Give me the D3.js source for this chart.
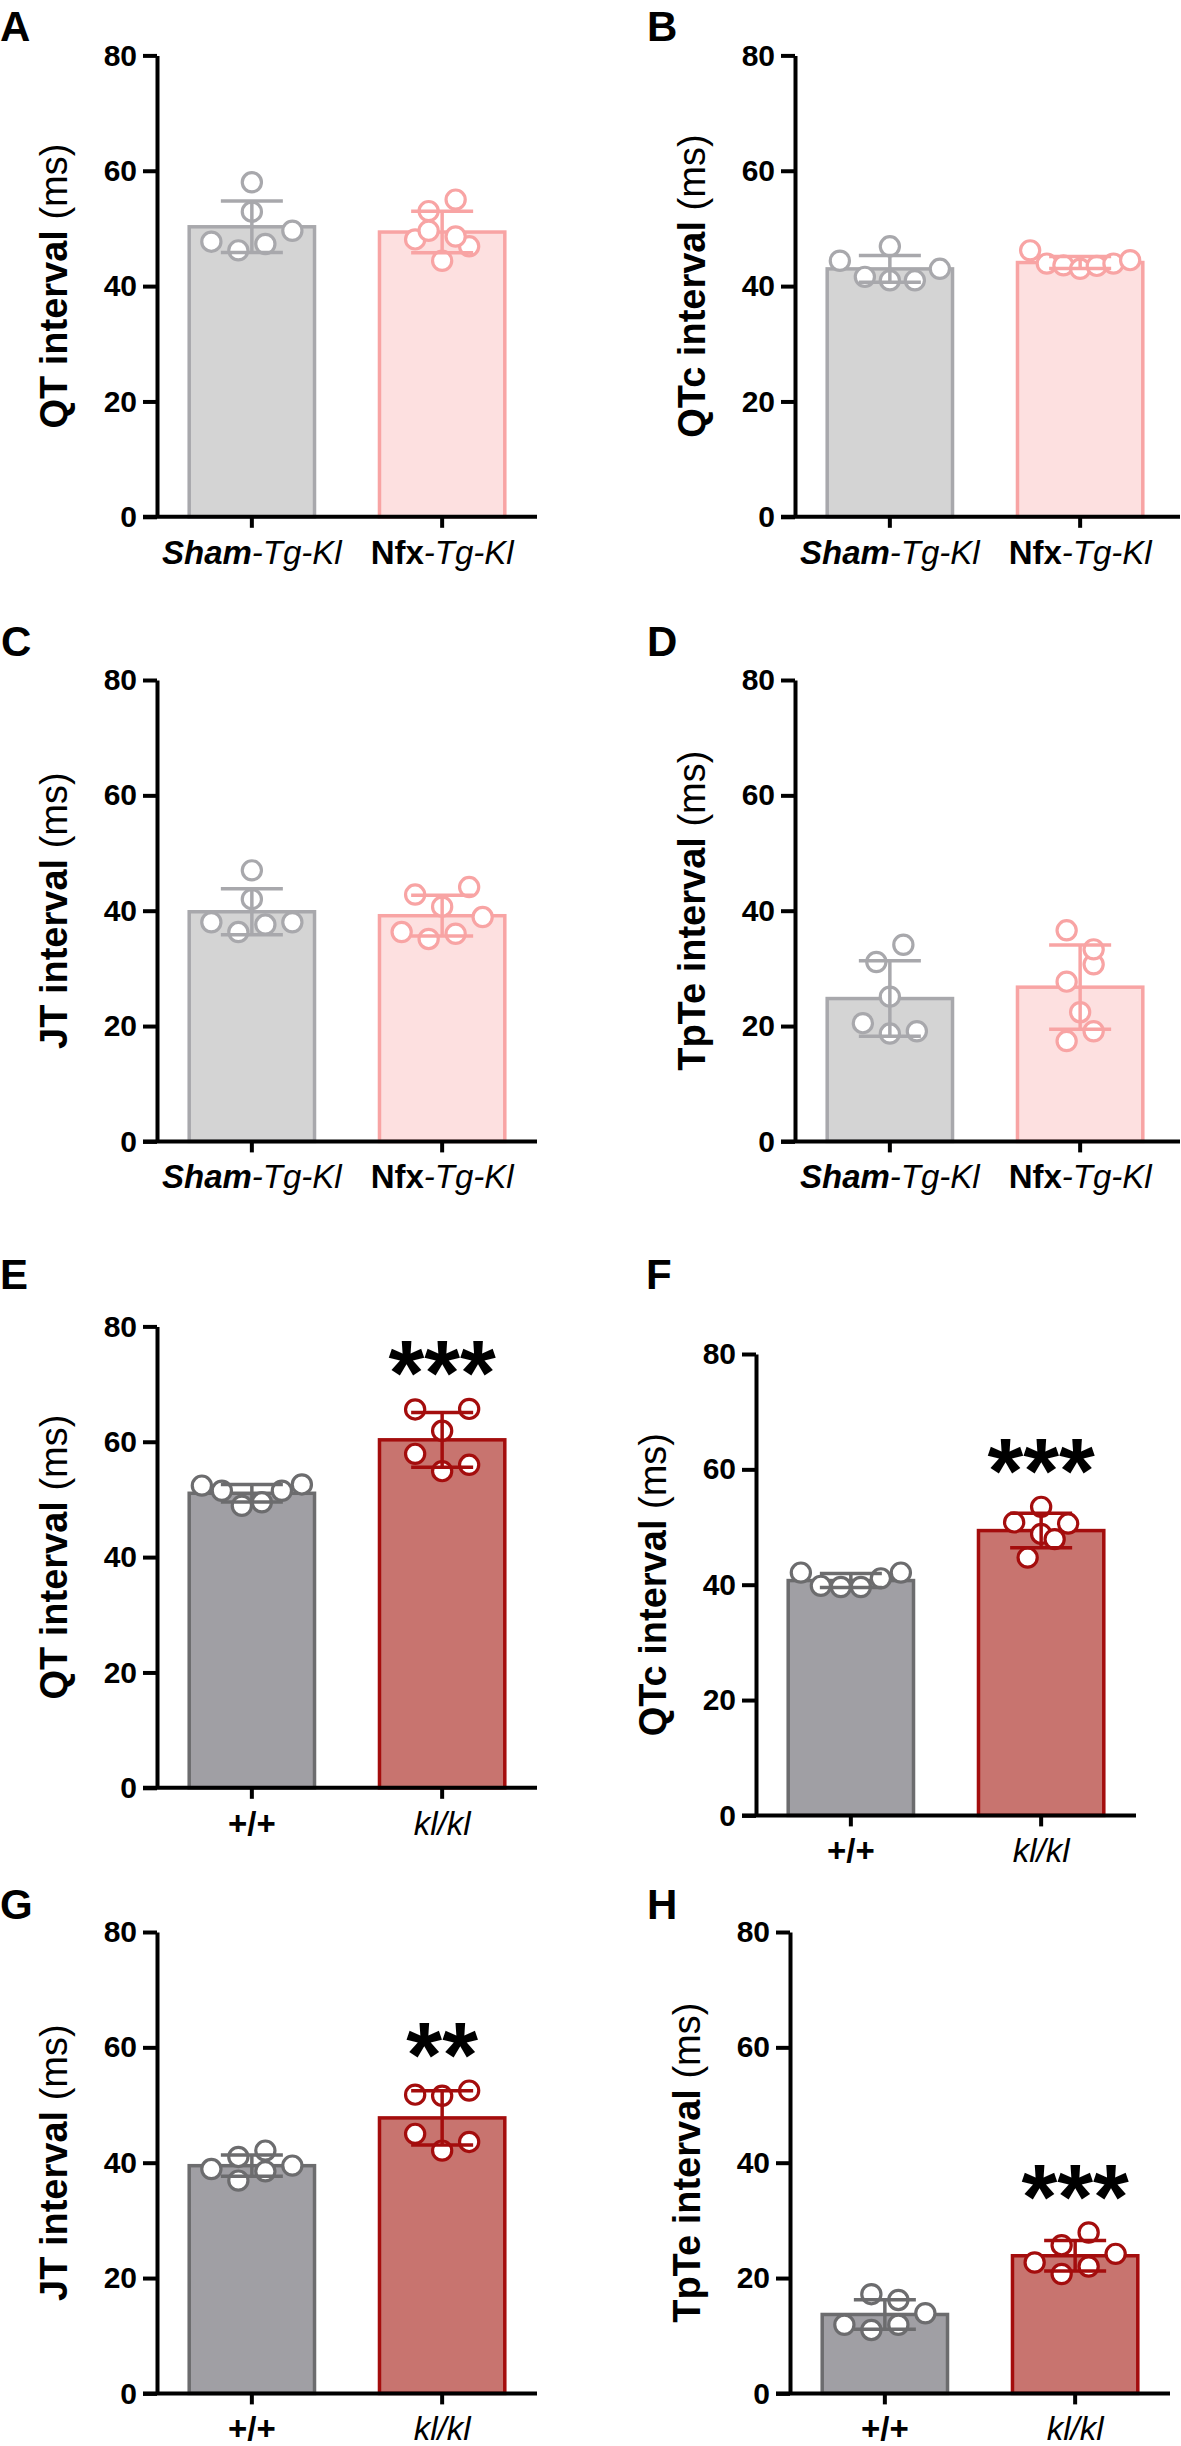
<!DOCTYPE html>
<html><head><meta charset="utf-8">
<script src="https://cdn.jsdelivr.net/npm/d3@7"></script>
<style>
body{margin:0;background:#fff}
svg{display:block}
text{font-family:"Liberation Sans",Arial,Helvetica,sans-serif}
</style>
</head><body>
<svg id="chart" width="1181" height="2446"></svg>
<script>
// ---------------- DATA ----------------
const yTicks = [0, 20, 40, 60, 80];
const panelLetters = ["A", "B", "C", "D", "E", "F", "G", "H"];
const measures = ["QT", "QTc", "JT", "TpTe", "QT", "QTc", "JT", "TpTe"];
const topGroups = ["Sham-Tg-Kl", "Nfx-Tg-Kl"];
const bottomGroups = ["+/+", "kl/kl"];

// individual animals (ms), listed left to right as they appear
const qtSham   = [47.7, 46.2, 58.0, 52.9, 47.3, 49.6];
const qtNfx    = [48.1, 53.0, 44.4, 55.0, 46.9, 49.6, 48.6];
const qtcSham  = [44.4, 41.6, 46.9, 41.0, 41.0, 43.0];
const qtcNfx   = [46.2, 43.9, 43.6, 43.0, 43.5, 43.9, 44.5];
const jtSham   = [38.0, 47.0, 36.3, 37.6, 42.0, 38.0];
const jtNfx    = [36.3, 42.8, 35.1, 40.7, 36.0, 44.1, 38.9];
const tpteSham = [20.5, 31.1, 25.1, 18.7, 34.1, 19.1];
const tpteNfx  = [36.6, 27.7, 17.4, 22.4, 30.7, 19.1, 33.3];

const qtWT   = [52.4, 51.5, 48.9, 49.5, 51.5, 52.6];
const qtKL   = [65.6, 57.9, 61.9, 54.9, 65.7, 56.0];
const qtcWT  = [42.1, 39.8, 39.6, 39.6, 41.1, 42.1];
const qtcKL  = [50.8, 48.8, 50.6, 44.7, 53.5, 47.9];
const jtWT   = [41.0, 38.9, 42.1, 36.9, 38.5, 39.5];
const jtKL   = [51.8, 45.0, 51.6, 42.1, 52.5, 43.6];
const tpteWT = [11.9, 17.2, 11.0, 11.9, 16.2, 13.9];
const tpteKL = [25.7, 22.7, 27.9, 20.7, 22.0, 24.2];

const significance = ["", "", "", "", "***", "***", "**", "***"];

// ---------------- LAYOUT / STYLE ----------------
const panelData = [
  [qtSham, qtNfx], [qtcSham, qtcNfx], [jtSham, jtNfx], [tpteSham, tpteNfx],
  [qtWT, qtKL], [qtcWT, qtcKL], [jtWT, jtKL], [tpteWT, tpteKL]
];
const layout = [
  {lx: 0,   ly: 41,   ax: 157, top: 55.4,   w: 380},
  {lx: 647, ly: 41,   ax: 795, top: 55.4,   w: 385},
  {lx: 1,   ly: 656,  ax: 157, top: 680,    w: 380},
  {lx: 647, ly: 656,  ax: 795, top: 680,    w: 385},
  {lx: 0,   ly: 1289, ax: 157, top: 1326.4, w: 380},
  {lx: 646, ly: 1289, ax: 756, top: 1354,   w: 380},
  {lx: 0,   ly: 1919, ax: 157, top: 1932,   w: 380},
  {lx: 647, ly: 1919, ax: 790, top: 1932,   w: 380}
];
const PLOT_H = 461.4, BAND_W = 380;
const topStyle = [
  {fill: "#d4d4d4", stroke: "#a8a8ac"},
  {fill: "#fde0e0", stroke: "#f8a4a4"}
];
const bottomStyle = [
  {fill: "#a09fa4", stroke: "#6c6c6e"},
  {fill: "#c8746f", stroke: "#a40d0d"}
];

const svg = d3.select("#chart");
svg.append("rect").attr("width", 1181).attr("height", 2446).attr("fill", "#fff");

// GraphPad-like scatter layout: bin points into rows, spread each row symmetrically
function scatterOffsets(vals, y) {
  const thr = 22, step = 27, maxHalf = 50;
  const idx = vals.map((v, i) => i).sort((a, b) => vals[a] - vals[b] || a - b);
  const rows = [];
  let cur = null;
  for (const i of idx) {
    if (!cur || Math.abs(y(vals[i]) - y(vals[cur[0]])) > thr) { cur = [i]; rows.push(cur); }
    else cur.push(i);
  }
  const off = new Array(vals.length).fill(0);
  rows.forEach(r => {
    r.sort((a, b) => a - b);
    const n = r.length;
    const s = n > 1 ? Math.min(step, 2 * maxHalf / (n - 1)) : 0;
    r.forEach((i, k) => { off[i] = (k - (n - 1) / 2) * s; });
  });
  return off;
}

panelData.forEach((groupsVals, pi) => {
  const L = layout[pi];
  const isTop = pi < 4;
  const groups = isTop ? topGroups : bottomGroups;
  const styles = isTop ? topStyle : bottomStyle;
  const g = svg.append("g");

  const y = d3.scaleLinear().domain([0, 80]).range([L.top + PLOT_H, L.top]);
  const x = d3.scaleBand().domain(groups).range([L.ax, L.ax + BAND_W])
    .paddingInner(0.323).paddingOuter(0.16);
  const bw = x.bandwidth();

  // bars
  groupsVals.forEach((vals, gi) => {
    const m = d3.mean(vals), sd = d3.deviation(vals);
    const cx = x(groups[gi]) + bw / 2;
    const st = styles[gi];
    g.append("rect")
      .attr("x", x(groups[gi]) + 1.75).attr("width", bw - 3.5)
      .attr("y", y(m)).attr("height", y(0) - y(m))
      .attr("fill", st.fill).attr("stroke", st.stroke).attr("stroke-width", 3.5);

    const offs = scatterOffsets(vals, y);
    g.selectAll(null).data(vals).enter().append("circle")
      .attr("cx", (d, i) => cx + offs[i])
      .attr("cy", d => y(d))
      .attr("r", 9.6)
      .attr("fill", "#fff").attr("stroke", st.stroke).attr("stroke-width", 3.2);

    // error bar mean ± SD
    const eb = g.append("g").attr("stroke", st.stroke).attr("stroke-width", 3.5);
    eb.append("line").attr("x1", cx).attr("x2", cx).attr("y1", y(m + sd)).attr("y2", y(m - sd));
    eb.append("line").attr("x1", cx - 31).attr("x2", cx + 31).attr("y1", y(m + sd)).attr("y2", y(m + sd));
    eb.append("line").attr("x1", cx - 31).attr("x2", cx + 31).attr("y1", y(m - sd)).attr("y2", y(m - sd));

    // significance stars
    if (gi === 1 && significance[pi]) {
      const top = Math.max(d3.max(vals), m + sd);
      const fs = 92;
      g.append("text").attr("x", cx).attr("y", y(top) - 54 + 0.55 * fs)
        .attr("text-anchor", "middle").attr("font-size", fs).attr("font-weight", "bold")
        .attr("fill", "#000").text(significance[pi]);
    }
  });

  // y axis
  const yAxis = g.append("g").attr("transform", `translate(${L.ax},0)`)
    .call(d3.axisLeft(y).tickValues(yTicks).tickSize(14).tickPadding(6).tickSizeOuter(0));
  yAxis.select(".domain").attr("stroke", "#000").attr("stroke-width", 4);
  yAxis.selectAll(".tick line").attr("stroke", "#000").attr("stroke-width", 4);
  yAxis.selectAll(".tick text").attr("font-size", 30).attr("font-weight", "bold")
    .attr("fill", "#000").attr("font-family", "'Liberation Sans',Arial,sans-serif");

  // x axis
  const xAxis = g.append("g").attr("transform", `translate(0,${y(0)})`)
    .call(d3.axisBottom(x).tickSize(11).tickSizeOuter(0).tickFormat(""));
  xAxis.select(".domain").remove();
  xAxis.selectAll(".tick line").attr("stroke", "#000").attr("stroke-width", 4);
  g.append("line").attr("x1", L.ax - 14).attr("x2", L.ax + L.w)
    .attr("y1", y(0)).attr("y2", y(0)).attr("stroke", "#000").attr("stroke-width", 4);

  // category labels
  groups.forEach((name, gi) => {
    const t = g.append("text").attr("x", x(name) + bw / 2).attr("y", y(0) + 47)
      .attr("text-anchor", "middle").attr("font-size", 33).attr("fill", "#000");
    if (isTop) {
      const parts = name.split("-");
      t.append("tspan").attr("font-weight", "bold").attr("font-style", gi === 0 ? "italic" : "normal").text(parts[0]);
      t.append("tspan").attr("font-style", "italic").text("-" + parts.slice(1).join("-"));
    } else if (gi === 0) {
      t.attr("font-weight", "bold").text(name);
    } else {
      t.attr("font-style", "italic").text(name);
    }
  });

  // y axis title
  const yt = g.append("text")
    .attr("transform", `translate(${L.ax - 104},${(y(0) + y(80)) / 2}) rotate(-90)`)
    .attr("text-anchor", "middle").attr("dy", "0.36em").attr("font-size", 38).attr("fill", "#000");
  yt.append("tspan").attr("font-weight", "bold").text(measures[pi] + " interval ");
  yt.append("tspan").text("(ms)");

  // panel letter
  g.append("text").attr("x", L.lx).attr("y", L.ly).attr("font-size", 42)
    .attr("font-weight", "bold").attr("fill", "#000").text(panelLetters[pi]);
});
</script>
</body></html>
